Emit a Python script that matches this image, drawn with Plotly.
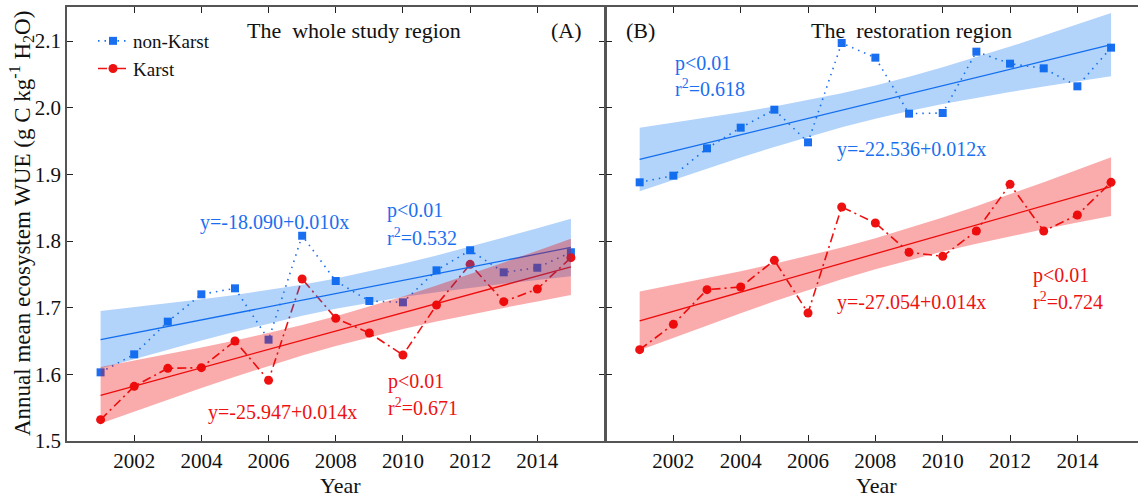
import numpy as np
import plotly.graph_objects as go

years = list(range(2001, 2016))

# Panel A: whole study region
whole_nonkarst = [1.603, 1.630, 1.679, 1.720, 1.729, 1.652, 1.808, 1.740,
                  1.710, 1.708, 1.756, 1.786, 1.753, 1.760, 1.783]
whole_karst = [1.532, 1.582, 1.609, 1.610, 1.650, 1.591, 1.743, 1.684,
               1.662, 1.629, 1.704, 1.765, 1.709, 1.728, 1.775]

# Panel B: restoration region
rest_nonkarst = [1.888, 1.898, 1.939, 1.970, 1.997, 1.948, 2.097, 2.075,
                 1.991, 1.992, 2.084, 2.066, 2.059, 2.032, 2.090]
rest_karst = [1.637, 1.675, 1.727, 1.731, 1.771, 1.692, 1.851, 1.827,
              1.783, 1.777, 1.815, 1.885, 1.815, 1.839, 1.888]

eq_labels = {
    "A_nk": ("y=-18.090+0.010x", "p<0.01", "r<sup>2</sup>=0.532"),
    "A_k": ("y=-25.947+0.014x", "p<0.01", "r<sup>2</sup>=0.671"),
    "B_nk": ("y=-22.536+0.012x", "p<0.01", "r<sup>2</sup>=0.618"),
    "B_k": ("y=-27.054+0.014x", "p<0.01", "r<sup>2</sup>=0.724"),
}

x_ticks = [2002, 2004, 2006, 2008, 2010, 2012, 2014]
y_ticks = [1.5, 1.6, 1.7, 1.8, 1.9, 2.0, 2.1]

BLUE = "#1a6ff0"
RED = "#ee1111"
BLUE_FILL = "rgba(0,110,240,0.30)"
RED_FILL = "rgba(240,0,0,0.33)"
FONT = "Liberation Serif"
T_CRIT = 2.160  # two-sided 95%, df = 13


def fit_band(x, y):
    x = np.asarray(x, float)
    y = np.asarray(y, float)
    n = len(x)
    b, a = np.polyfit(x, y, 1)
    yhat = a + b * x
    s = np.sqrt(np.sum((y - yhat) ** 2) / (n - 2))
    sxx = np.sum((x - x.mean()) ** 2)
    half = T_CRIT * s * np.sqrt(1.0 / n + (x - x.mean()) ** 2 / sxx)
    return yhat, yhat - half, yhat + half


fig = go.Figure()


def add_panel(nk, k, xa, ya, showlegend):
    fig.add_trace(go.Scatter(x=years, y=nk, mode="lines+markers", name="non-Karst",
                             line=dict(color=BLUE, width=1.6, dash="1.5px,5px"),
                             marker=dict(symbol="square", size=8, color=BLUE),
                             xaxis=xa, yaxis=ya, showlegend=showlegend))
    fig.add_trace(go.Scatter(x=years, y=k, mode="lines+markers", name="Karst",
                             line=dict(color=RED, width=1.6, dash="9px,4px,2px,4px"),
                             marker=dict(symbol="circle", size=9, color=RED),
                             xaxis=xa, yaxis=ya, showlegend=showlegend))
    fits = []
    for vals, col in ((nk, BLUE), (k, RED)):
        yhat, lo, hi = fit_band(years, vals)
        fits.append((yhat, lo, hi))
        fig.add_trace(go.Scatter(x=years, y=yhat, mode="lines",
                                 line=dict(color=col, width=1.3),
                                 xaxis=xa, yaxis=ya, showlegend=False, hoverinfo="skip"))
    for (yhat, lo, hi), fc in zip(fits, (BLUE_FILL, RED_FILL)):
        fig.add_trace(go.Scatter(x=years, y=hi, mode="lines", line=dict(width=0),
                                 xaxis=xa, yaxis=ya, showlegend=False, hoverinfo="skip"))
        fig.add_trace(go.Scatter(x=years, y=lo, mode="lines", line=dict(width=0),
                                 fill="tonexty", fillcolor=fc,
                                 xaxis=xa, yaxis=ya, showlegend=False, hoverinfo="skip"))


add_panel(whole_nonkarst, whole_karst, "x", "y", True)
add_panel(rest_nonkarst, rest_karst, "x2", "y2", False)

W, H = 1138, 499
ML, MR, MT, MB = 67, 0, 7, 58
PW = W - ML - MR
PH = H - MT - MB
split = (606 - ML) / PW
split_left = split - 1.5 / PW

axis_common = dict(showline=True, linecolor="#555555", linewidth=1.5,
                   ticks="inside", ticklen=6, tickcolor="#222222",
                   showgrid=False, zeroline=False,
                   tickfont=dict(family=FONT, size=21, color="#111111"))

fig.update_layout(
    width=W, height=H,
    margin=dict(l=ML, r=MR, t=MT, b=MB),
    paper_bgcolor="white", plot_bgcolor="white",
    font=dict(family=FONT, color="#111111"),
    xaxis=dict(domain=[0, split_left], range=[2000, 2016], tickvals=x_ticks,
               mirror="ticks", **axis_common),
    xaxis2=dict(domain=[split, 1], range=[2000, 2015.8], tickvals=x_ticks,
                mirror="ticks", **axis_common),
    yaxis=dict(range=[1.5, 2.151], tickvals=y_ticks, mirror="ticks",
               ticktext=[f"{v:.1f}" for v in y_ticks], anchor="x", **axis_common),
    yaxis2=dict(range=[1.5, 2.151], tickvals=y_ticks, showticklabels=False,
                mirror=False, anchor="x2", **axis_common),
    showlegend=True,
    legend=dict(x=(93 - ML) / PW, y=1 - (22 - MT) / PH, xanchor="left", yanchor="top",
                bgcolor="rgba(0,0,0,0)", font=dict(family=FONT, size=19, color="#111111"),
                traceorder="normal", tracegroupgap=0, itemwidth=30),
)


def px_x(px):
    return (px - ML) / PW


def px_y(py):
    return 1 - (py - MT) / PH


def ann(text, x, y, color="#111111", size=20, xanchor="center", yanchor="middle", angle=0):
    fig.add_annotation(text=text, x=px_x(x), y=px_y(y), xref="paper", yref="paper",
                       showarrow=False, xanchor=xanchor, yanchor=yanchor, textangle=angle,
                       font=dict(family=FONT, size=size, color=color))


# panel titles
ann("The\u00a0 whole study region", 354, 30, size=22)
ann("(A)", 566, 30, size=22)
ann("(B)", 640, 31, size=22)
ann("The\u00a0 restoration region", 911, 30, size=22)

# panel A statistics
ann(eq_labels["A_nk"][0], 274, 222, color=BLUE)
ann(eq_labels["A_nk"][1], 385, 211, color=BLUE, xanchor="left")
ann(eq_labels["A_nk"][2], 385, 237, color=BLUE, xanchor="left")
ann(eq_labels["A_k"][0], 282, 412, color=RED)
ann(eq_labels["A_k"][1], 386, 381, color=RED, xanchor="left")
ann(eq_labels["A_k"][2], 386, 407, color=RED, xanchor="left")

# panel B statistics
ann(eq_labels["B_nk"][1], 673, 63, color=BLUE, xanchor="left")
ann(eq_labels["B_nk"][2], 673, 88, color=BLUE, xanchor="left")
ann(eq_labels["B_nk"][0], 911, 149, color=BLUE)
ann(eq_labels["B_k"][0], 911, 302, color=RED)
ann(eq_labels["B_k"][1], 1031, 275, color=RED, xanchor="left")
ann(eq_labels["B_k"][2], 1031, 301, color=RED, xanchor="left")

# axis titles
ann("Year", 340, 485, size=22)
ann("Year", 876, 485, size=22)
ann("Annual mean ecosystem WUE (g C kg<sup>-1</sup> H<sub>2</sub>O)", 21, 224, size=23, angle=-90)

fig.write_html("out.html")
